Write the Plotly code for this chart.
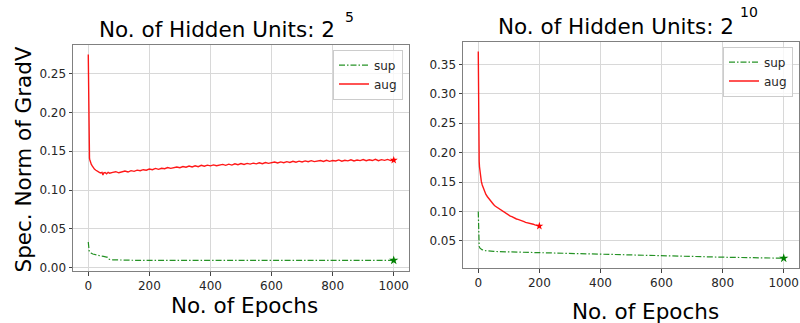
import plotly.graph_objects as go

# ---------------- data ----------------
# Left panel: 2^5 hidden units
left_aug_epochs = [0, 1, 2, 3, 4, 5, 7, 10, 13, 16, 20, 25, 30, 35, 40, 45, 48, 50, 55, 60, 65, 70,
                   80, 90, 100, 110, 120, 130, 140, 150, 160, 170, 180, 190, 200, 210, 220, 230, 240,
                   250, 260, 270, 280, 290, 300, 310, 320, 330, 340, 350, 360, 370, 380, 390, 400,
                   410, 420, 430, 440, 450, 460, 470, 480, 490, 500, 510, 520, 530, 540, 550, 560,
                   570, 580, 590, 600, 610, 620, 630, 640, 650, 660, 670, 680, 690, 700, 710, 720,
                   730, 740, 750, 760, 770, 780, 790, 800, 810, 820, 830, 840, 850, 860, 870, 880,
                   890, 900, 910, 920, 930, 940, 950, 960, 970, 980, 990, 1000]
left_aug_values = [0.2748, 0.190, 0.155, 0.145, 0.141, 0.139, 0.136, 0.133, 0.131, 0.129, 0.127,
                   0.1255, 0.1238, 0.1232, 0.1221, 0.1228, 0.1192, 0.1218, 0.1226, 0.1209, 0.1228,
                   0.1217, 0.1228, 0.1236, 0.1222, 0.1238, 0.1245, 0.1232, 0.1250, 0.1241, 0.1256,
                   0.1248, 0.1262, 0.1255, 0.1270, 0.1262, 0.1278, 0.1266, 0.1281, 0.1275, 0.1290,
                   0.1279, 0.1286, 0.1297, 0.1288, 0.1302, 0.1294, 0.1309, 0.1297, 0.1312, 0.1301,
                   0.1318, 0.1306, 0.1320, 0.1311, 0.1324, 0.1313, 0.1322, 0.1330, 0.1318, 0.1333,
                   0.1321, 0.1338, 0.1327, 0.1341, 0.1330, 0.1343, 0.1334, 0.1346, 0.1337, 0.1351,
                   0.1340, 0.1355, 0.1344, 0.1352, 0.1361, 0.1349, 0.1363, 0.1352, 0.1366, 0.1356,
                   0.1370, 0.1359, 0.1372, 0.1362, 0.1375, 0.1364, 0.1378, 0.1366, 0.1374, 0.1381,
                   0.1368, 0.1383, 0.1370, 0.1380, 0.1374, 0.1388, 0.1372, 0.1384, 0.1376, 0.1390,
                   0.1375, 0.1386, 0.1379, 0.1393, 0.1377, 0.1389, 0.1380, 0.1395, 0.1378, 0.1391,
                   0.1382, 0.1394, 0.1379, 0.1385]

left_sup_epochs = [0, 1, 2, 3, 5, 8, 10, 15, 20, 30, 40, 50, 60, 63, 66, 70, 80, 100, 150, 200,
                   300, 400, 500, 600, 700, 800, 900, 1000]
left_sup_values = [0.0330, 0.0260, 0.0230, 0.0215, 0.0205, 0.0190, 0.0185, 0.0175, 0.0168, 0.0158,
                   0.0150, 0.0145, 0.0140, 0.0132, 0.0112, 0.0105, 0.0100, 0.0097, 0.0094, 0.0092,
                   0.0091, 0.0091, 0.0091, 0.0092, 0.0092, 0.0093, 0.0093, 0.0094]

# Right panel: 2^10 hidden units
right_aug_epochs = [0, 1, 2, 3, 4, 5, 7, 10, 13, 16, 20, 25, 30, 38, 45, 50, 55, 60, 65, 70, 75, 80,
                    85, 90, 95, 100, 105, 110, 115, 120, 125, 130, 135, 140, 145, 150, 155, 160,
                    165, 170, 175, 180, 185, 190, 195, 200]
right_aug_values = [0.372, 0.215, 0.195, 0.185, 0.176, 0.169, 0.160, 0.151, 0.145, 0.140, 0.135,
                    0.129, 0.125, 0.119, 0.1145, 0.1118, 0.1092, 0.1075, 0.1050, 0.1038, 0.1015,
                    0.1002, 0.0982, 0.0971, 0.0948, 0.0940, 0.0921, 0.0912, 0.0896, 0.0889, 0.0872,
                    0.0866, 0.0853, 0.0848, 0.0831, 0.0826, 0.0815, 0.0811, 0.0802, 0.0796, 0.0786,
                    0.0783, 0.0772, 0.0768, 0.0760, 0.0752]

right_sup_epochs = [0, 1, 2, 3, 5, 8, 12, 20, 30, 50, 100, 150, 200, 300, 400, 500, 600, 700, 800,
                    900, 1000]
right_sup_values = [0.1000, 0.0600, 0.0460, 0.0410, 0.0380, 0.0360, 0.0350, 0.0335, 0.0328, 0.0320,
                    0.0312, 0.0305, 0.0298, 0.0282, 0.0266, 0.0254, 0.0242, 0.0231, 0.0222, 0.0213,
                    0.0205]

x_ticks = [0, 200, 400, 600, 800, 1000]
left_y_ticks = [0.00, 0.05, 0.10, 0.15, 0.20, 0.25]
right_y_ticks = [0.05, 0.10, 0.15, 0.20, 0.25, 0.30, 0.35]

# ---------------- figure ----------------
W, H = 800, 323
GREEN = "#008000"
RED = "#ff0000"
FONT = "DejaVu Sans"
DASHDOT = "6px,2px,1.5px,2px"


def px_x(p):
    return p / W


def px_y(p):
    return 1 - p / H


fig = go.Figure()

panels = [
    ("x", "y", "legend", left_sup_epochs, left_sup_values, left_aug_epochs, left_aug_values),
    ("x2", "y2", "legend2", right_sup_epochs, right_sup_values, right_aug_epochs, right_aug_values),
]
for xa, ya, lg, se, sv, ae, av in panels:
    fig.add_trace(go.Scatter(x=se, y=sv, mode="lines", name="sup", xaxis=xa, yaxis=ya, legend=lg,
                             line=dict(color=GREEN, width=1.2, dash=DASHDOT), opacity=0.85))
    fig.add_trace(go.Scatter(x=ae, y=av, mode="lines", name="aug", xaxis=xa, yaxis=ya, legend=lg,
                             line=dict(color=RED, width=1.4), opacity=0.9))
    fig.add_trace(go.Scatter(x=[se[-1]], y=[sv[-1]], mode="markers", showlegend=False,
                             xaxis=xa, yaxis=ya,
                             marker=dict(symbol="star", size=7, color=GREEN, line=dict(width=0))))
    fig.add_trace(go.Scatter(x=[ae[-1]], y=[av[-1]], mode="markers", showlegend=False,
                             xaxis=xa, yaxis=ya,
                             marker=dict(symbol="star", size=6, color=RED, line=dict(width=0))))

axis_common = dict(
    showline=True, mirror=True, linecolor="#808080", linewidth=1,
    showgrid=True, gridcolor="#d8d8d8", gridwidth=1, zeroline=False,
    ticks="outside", ticklen=3.5, tickwidth=1, tickcolor="#444444",
    tickfont=dict(family=FONT, size=12, color="#262626"),
)

fig.update_layout(
    width=W, height=H,
    margin=dict(l=0, r=0, t=0, b=0),
    paper_bgcolor="white", plot_bgcolor="white",
    font=dict(family=FONT, color="#000000"),
    xaxis=dict(domain=[px_x(73), px_x(409)], range=[-50, 1050], tickvals=x_ticks,
               anchor="y", **axis_common),
    yaxis=dict(domain=[px_y(274), px_y(45)], range=[-0.0050, 0.2875], tickvals=left_y_ticks,
               tickformat=".2f", anchor="x", **axis_common),
    xaxis2=dict(domain=[px_x(463), px_x(799)], range=[-50, 1050], tickvals=x_ticks,
                anchor="y2", **axis_common),
    yaxis2=dict(domain=[px_y(271), px_y(42)], range=[0.0030, 0.3888], tickvals=right_y_ticks,
                tickformat=".2f", anchor="x2", **axis_common),
    legend=dict(x=px_x(403), y=px_y(50), xanchor="right", yanchor="top",
                bgcolor="rgba(255,255,255,0.8)", bordercolor="#cccccc", borderwidth=1,
                font=dict(family=FONT, size=12, color="#262626"), itemwidth=30,
                tracegroupgap=0),
    legend2=dict(x=px_x(793), y=px_y(47), xanchor="right", yanchor="top",
                 bgcolor="rgba(255,255,255,0.8)", bordercolor="#cccccc", borderwidth=1,
                 font=dict(family=FONT, size=12, color="#262626"), itemwidth=30,
                 tracegroupgap=0),
)

annotations = [
    # titles
    dict(text="No. of Hidden Units: 2", x=px_x(97), y=px_y(30), xanchor="left", yanchor="middle",
         font=dict(size=21.5)),
    dict(text="5", x=px_x(343), y=px_y(17), xanchor="left", yanchor="middle", font=dict(size=14)),
    dict(text="No. of Hidden Units: 2", x=px_x(496), y=px_y(27), xanchor="left", yanchor="middle",
         font=dict(size=21.5)),
    dict(text="10", x=px_x(738), y=px_y(12), xanchor="left", yanchor="middle", font=dict(size=14)),
    # axis labels
    dict(text="Spec. Norm of GradV", x=px_x(24), y=px_y(161), xanchor="center", yanchor="middle",
         textangle=-90, font=dict(size=21.5)),
    dict(text="No. of Epochs", x=px_x(244), y=px_y(308), xanchor="center", yanchor="middle",
         font=dict(size=21.5)),
    dict(text="No. of Epochs", x=px_x(645), y=px_y(314), xanchor="center", yanchor="middle",
         font=dict(size=21.5)),
]
for a in annotations:
    a.update(xref="paper", yref="paper", showarrow=False)
    a["font"].update(family=FONT, color="#000000")
fig.update_layout(annotations=annotations)

fig.write_html("out.html")
